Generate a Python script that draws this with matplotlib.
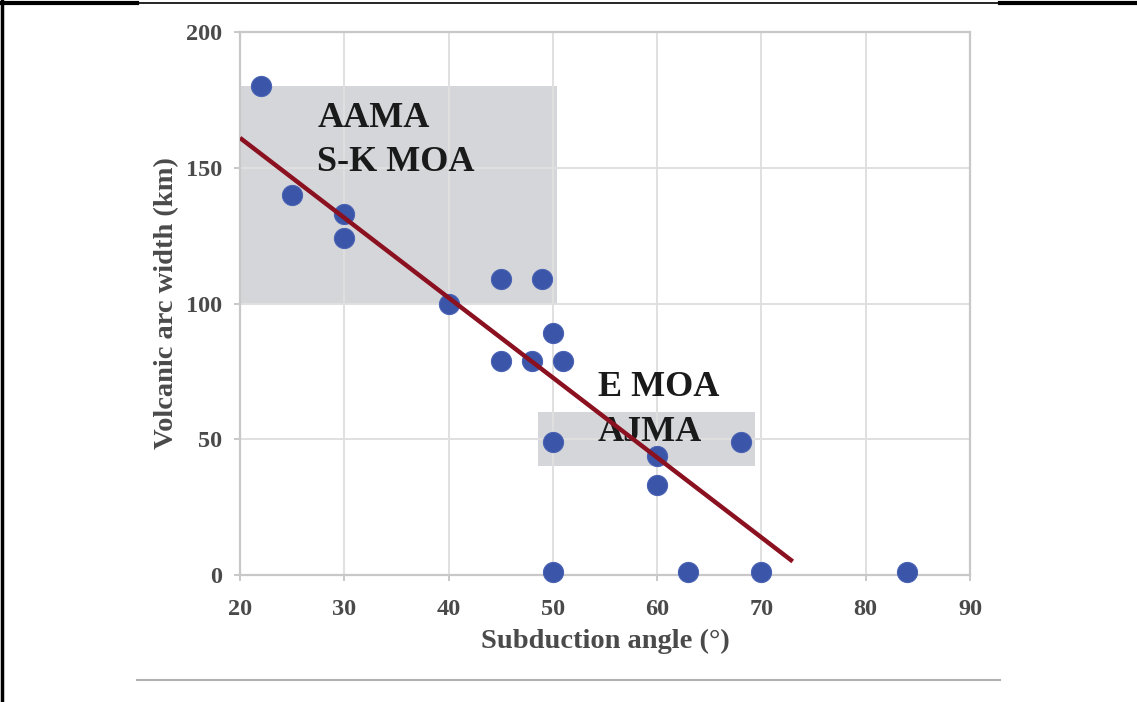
import matplotlib
matplotlib.use("Agg")
import matplotlib.pyplot as plt
from matplotlib.lines import Line2D
from matplotlib.patches import Rectangle

# Data
angle = [22, 25, 30, 30, 40, 45, 49, 50, 45, 48, 51, 50, 68, 60, 60, 50, 63, 70, 84]
width = [180, 140, 133, 124, 100, 109, 109, 89, 79, 79, 79, 49, 49, 44, 33, 1, 1, 1, 1]
fit_x = [20, 73]
fit_y = [161, 5]
box1 = (20, 100, 50.4, 180)   # x0, y0, x1, y1
box2 = (48.6, 40, 69.4, 60)
label1 = ["AAMA", "S-K MOA"]
label2 = ["E MOA", "AJMA"]
xticks = [20, 30, 40, 50, 60, 70, 80, 90]
yticks = [0, 50, 100, 150, 200]

W, H = 1137, 702
fig = plt.figure(figsize=(W / 100, H / 100), dpi=100)
ax = fig.add_axes([240 / W, 1 - 575 / H, 730 / W, 543 / H])

serif = ["Liberation Serif", "DejaVu Serif"]
gridc = "#e0e0e0"

ax.set_xlim(20, 90)
ax.set_ylim(0, 200)
ax.set_xticks(xticks)
ax.set_yticks(yticks)
ax.grid(True, color=gridc, lw=1.4, zorder=0)
for s in ax.spines.values():
    s.set_color("#c8c8c8")
    s.set_linewidth(1.6)
ax.tick_params(color="#c0c0c0", length=4, width=1.2, labelcolor="#4a4a4a", labelsize=17.5)
ax.tick_params(axis="x", pad=13)
ax.tick_params(axis="y", pad=9)
for lab in ax.get_xticklabels() + ax.get_yticklabels():
    lab.set_family(serif)
    lab.set_fontweight("bold")

for b in (box1, box2):
    ax.add_patch(Rectangle((b[0], b[1]), b[2] - b[0], b[3] - b[1],
                           facecolor="#d4d6d9", edgecolor="none", zorder=1))

ax.scatter(angle, width, s=210, color="#3b55a8", edgecolors="#4a63b4",
           linewidths=0.8, zorder=3, clip_on=False)
ax.plot(fit_x, fit_y, color="#8b1020", lw=3.2, zorder=4, solid_capstyle="butt")

fs = 26
ax.text(27.4, 168, label1[0], family=serif, weight="bold", fontsize=fs,
        color="#1a1a1a", va="center", ha="left", zorder=5)
ax.text(27.4, 152, label1[1], family=serif, weight="bold", fontsize=fs,
        color="#1a1a1a", va="center", ha="left", zorder=5)
ax.text(54.3, 69, label2[0], family=serif, weight="bold", fontsize=fs,
        color="#1a1a1a", va="center", ha="left", zorder=2)
ax.text(54.3, 52.5, label2[1], family=serif, weight="bold", fontsize=fs,
        color="#1a1a1a", va="center", ha="left", zorder=2)

ax.set_xlabel("Subduction angle (°)", family=serif, weight="bold", fontsize=20.5,
              color="#4a4a4a", labelpad=7)
ax.set_ylabel("Volcanic arc width (km)", family=serif, weight="bold", fontsize=20.5,
              color="#4a4a4a", labelpad=5)

# page frame lines
def fl(x0, y0, x1, y1, **kw):
    fig.add_artist(Line2D([x0 / W, x1 / W], [1 - y0 / H, 1 - y1 / H], **kw))

fl(1.5, 0, 1.5, H, color="black", lw=2.5)
fl(0, 2.5, 137, 2.5, color="black", lw=3)
fl(137, 2.5, 1000, 2.5, color="black", lw=1.2)
fl(1000, 2.5, W, 2.5, color="black", lw=3)
fl(137, 680, 1000, 680, color="#b0b0b0", lw=1.5)

fig.savefig("out.png", dpi=100)
